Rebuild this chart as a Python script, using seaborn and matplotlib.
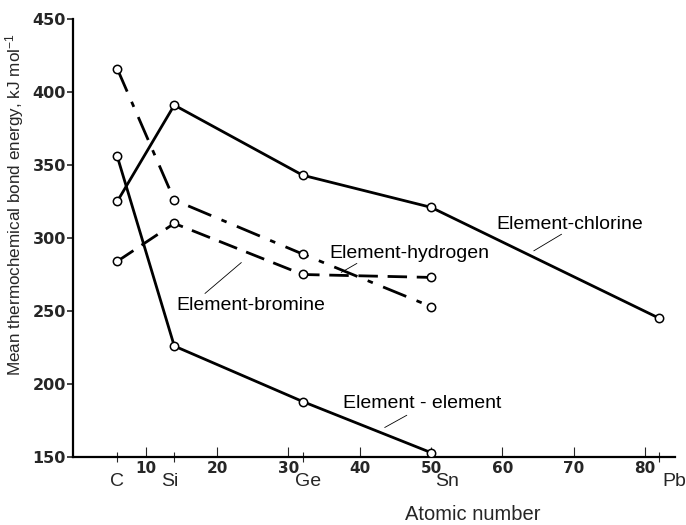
import matplotlib
matplotlib.use("Agg")
import matplotlib.pyplot as plt
import seaborn as sns
import pandas as pd

# Group 14 elements and their atomic numbers
elements = ["C", "Si", "Ge", "Sn", "Pb"]
atomic_numbers = [6, 14, 32, 50, 82]

# Mean thermochemical bond energies, kJ/mol
element_element = [356, 226, 188, 153]
element_chlorine = [325, 391, 343, 321, 245]
element_hydrogen = [416, 326, 289, 253]
element_bromine = [284, 310, 275, 273]

x_ticks = [10, 20, 30, 40, 50, 60, 70, 80]
y_ticks = [150, 200, 250, 300, 350, 400, 450]

sns.set_theme(style="white")
plt.rcParams["font.family"] = ["Liberation Sans", "DejaVu Sans"]
plt.rcParams["mathtext.default"] = "regular"

fig = plt.figure(figsize=(6.86, 5.25), dpi=100)
ax = fig.add_axes([73 / 686, 1 - 457 / 525, 602 / 686, 438 / 525])

series = [
    ("Element-element", element_element, "-"),
    ("Element-chlorine", element_chlorine, "-"),
    ("Element-hydrogen", element_hydrogen, (0, (9, 4, 2, 4))),
    ("Element-bromine", element_bromine, (0, (7, 3.5))),
]

for name, vals, ls in series:
    df = pd.DataFrame({"Z": atomic_numbers[: len(vals)], "E": vals})
    sns.lineplot(data=df, x="Z", y="E", ax=ax, color="black", lw=2.0,
                 linestyle=ls, marker="o", markersize=6,
                 markerfacecolor="white", markeredgecolor="black",
                 markeredgewidth=1.1, estimator=None, sort=False,
                 legend=False, zorder=3)

# Series labels with thin leader lines
labels = [
    ("Element-chlorine", (59.2, 309.5), (68.3, 302.6), (64.4, 291.2)),
    ("Element-hydrogen", (35.8, 289.6), (39.6, 282.6), (37.4, 276.4)),
    ("Element-bromine", (14.3, 254.0), (18.3, 262.0), (23.4, 283.2)),
    ("Element - element", (37.6, 186.8), (46.6, 178.6), (43.5, 170.2)),
]
for text, (tx, ty), (x0, y0), (x1, y1) in labels:
    ax.text(tx, ty, text, fontsize=14, ha="left", va="center", color="black")
    ax.plot([x0, x1], [y0, y1], color="black", lw=0.6)

ax.set_xlim(-0.2, 84.2)
ax.set_ylim(150, 450)

ax.set_xticks(x_ticks)
ax.set_xticklabels([str(t) for t in x_ticks], fontsize=11, fontweight="bold",
                   family="DejaVu Sans")
ax.set_xticks(atomic_numbers, minor=True)
ax.tick_params(axis="x", which="major", direction="in", length=7, width=0.8,
               pad=3, bottom=True)
ax.tick_params(axis="x", which="minor", direction="inout", length=7,
               width=0.8, bottom=True)

ax.set_yticks(y_ticks)
ax.set_yticklabels([str(t) for t in y_ticks], fontsize=11.5,
                   fontweight="bold", family="DejaVu Sans")
ax.tick_params(axis="y", direction="out", length=4, width=1.2, pad=1,
               left=True)

# Element symbols under their atomic-number ticks
offsets = {"C": 0, "Si": -4, "Ge": 5, "Sn": 16, "Pb": 15}
for el, z in zip(elements, atomic_numbers):
    ax.annotate(el, xy=(z, 0), xycoords=("data", "axes fraction"),
                xytext=(offsets[el], -25), textcoords="offset pixels",
                ha="center", va="center", fontsize=14)

ax.set_xlabel("Atomic number", fontsize=14.5)
ax.xaxis.set_label_coords(400 / 602, -48 / 438)
ax.set_ylabel("Mean thermochemical bond energy, kJ mol$^{-1}$", fontsize=12.3)
ax.yaxis.set_label_coords(-47 / 602, 252 / 438)

sns.despine(ax=ax)
for side in ("left", "bottom"):
    ax.spines[side].set_color("black")
    ax.spines[side].set_linewidth(1.6)
ax.grid(False)

fig.savefig("out.png", dpi=100, facecolor="white")
